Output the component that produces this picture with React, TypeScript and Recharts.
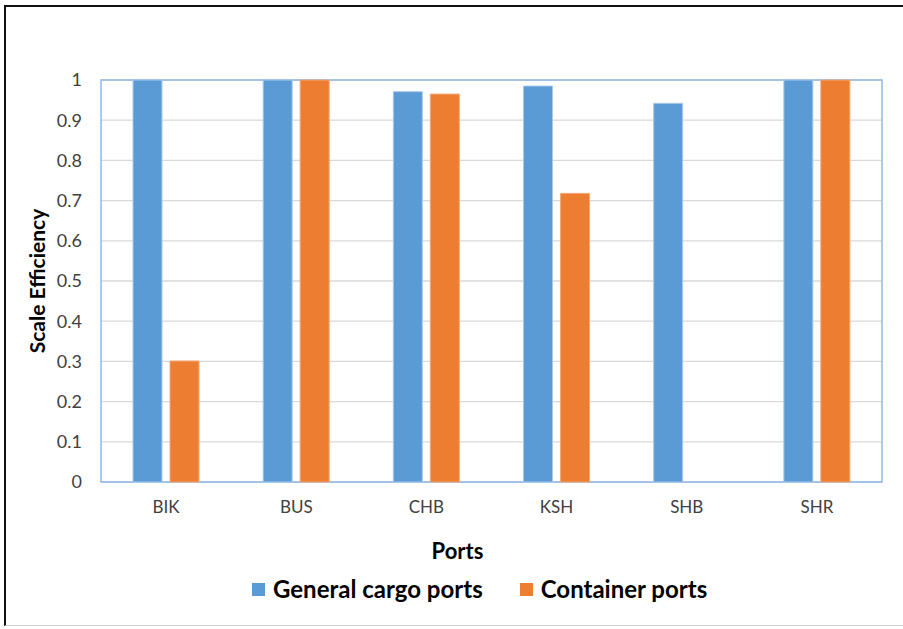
import React from 'react';
import {
  BarChart,
  Bar,
  XAxis,
  YAxis,
  CartesianGrid,
  Legend,
  ReferenceArea,
  Label,
} from 'recharts';

// ports on the x axis
const ports = ['BIK', 'BUS', 'CHB', 'KSH', 'SHB', 'SHR'];
// scale efficiency
const generalCargo = [1, 1, 0.971, 0.985, 0.942, 1];
const containerPorts = [0.301, 1, 0.965, 0.718, 0, 1];
const yTicks = [0, 0.1, 0.2, 0.3, 0.4, 0.5, 0.6, 0.7, 0.8, 0.9, 1];

const BLUE = '#5b9bd5';
const ORANGE = '#ed7d31';
const FONT = 'Lato, "Open Sans", sans-serif';

const data = ports.map((p, i) => ({
  port: p,
  general: generalCargo[i],
  container: containerPorts[i] || null,
}));

function LegendBox() {
  const item = (color: string, text: string, gap: number) => (
    <span style={{ display: 'inline-flex', alignItems: 'center', marginRight: gap }}>
      <span style={{ width: 13, height: 13, background: color, display: 'inline-block', marginRight: 8 }} />
      <span>{text}</span>
    </span>
  );
  return (
    <div
      style={{
        width: 903,
        display: 'flex',
        justifyContent: 'flex-start',
        fontFamily: FONT,
        fontWeight: 700,
        fontSize: 24,
        lineHeight: '30px',
        color: '#000',
        paddingLeft: 252,
        boxSizing: 'border-box',
      }}
    >
      {item(BLUE, 'General cargo ports', 37)}
      {item(ORANGE, 'Container ports', 0)}
    </div>
  );
}

export default function App() {
  return (
    <div style={{ position: 'absolute', left: 0, top: 0, width: 903, height: 629, background: '#fff' }}>
      <div
        style={{
          position: 'absolute',
          left: 4,
          top: 5,
          width: 899,
          height: 621,
          borderLeft: '2px solid #111',
          borderTop: '2px solid #111',
          borderBottom: '1px solid #cfcfcf',
          boxSizing: 'border-box',
        }}
      />
      <div style={{ position: 'absolute', left: 0, top: 0 }}>
        <BarChart
          width={903}
          height={629}
          data={data}
          margin={{ top: 80, right: 21, left: 41, bottom: 0 }}
          barSize={29}
          barGap={8}
        >
          <CartesianGrid vertical={false} stroke="#d9d9d9" strokeWidth={1.3} />
          <XAxis
            dataKey="port"
            height={117}
            axisLine={false}
            tickLine={false}
            tickSize={0}
            tickMargin={19}
            tick={{ fontSize: 17, fill: '#404040', fontFamily: FONT }}
          >
            <Label
              content={({ viewBox }: any) => (
                <text
                  x={viewBox.x + viewBox.width / 2 - 34}
                  y={viewBox.y + 77}
                  textAnchor="middle"
                  fontFamily={FONT}
                  fontWeight={700}
                  fontSize={22}
                  fill="#000"
                >
                  Ports
                </text>
              )}
            />
          </XAxis>
          <YAxis
            width={60}
            domain={[0, 1]}
            ticks={yTicks}
            interval={0}
            axisLine={false}
            tickLine={false}
            tickSize={0}
            tickMargin={19}
            tickFormatter={(v: number) => String(Number(v.toFixed(1)))}
            tick={{ fontSize: 18, fill: '#404040', fontFamily: FONT }}
          >
            <Label
              content={({ viewBox }: any) => (
                <text
                  x={36}
                  y={viewBox.y + viewBox.height / 2}
                  transform={`rotate(-90, 36, ${viewBox.y + viewBox.height / 2})`}
                  textAnchor="middle"
                  dominantBaseline="central"
                  fontFamily={FONT}
                  fontWeight={700}
                  fontSize={21}
                  fill="#000"
                >
                  Scale Efficiency
                </text>
              )}
            />
          </YAxis>
          <ReferenceArea y1={0} y2={1} fill="none" stroke="#8fb8e6" strokeWidth={1.5} ifOverflow="visible" />
          <Bar dataKey="general" name="General cargo ports" fill={BLUE} stroke="#a9c9ea" strokeWidth={1} isAnimationActive={false} />
          <Bar dataKey="container" name="Container ports" fill={ORANGE} stroke="#f3a877" strokeWidth={1} isAnimationActive={false} />
          <Legend
            verticalAlign="bottom"
            content={() => <LegendBox />}
            wrapperStyle={{ left: 0, top: 574, width: 903 }}
          />
        </BarChart>
      </div>
    </div>
  );
}
